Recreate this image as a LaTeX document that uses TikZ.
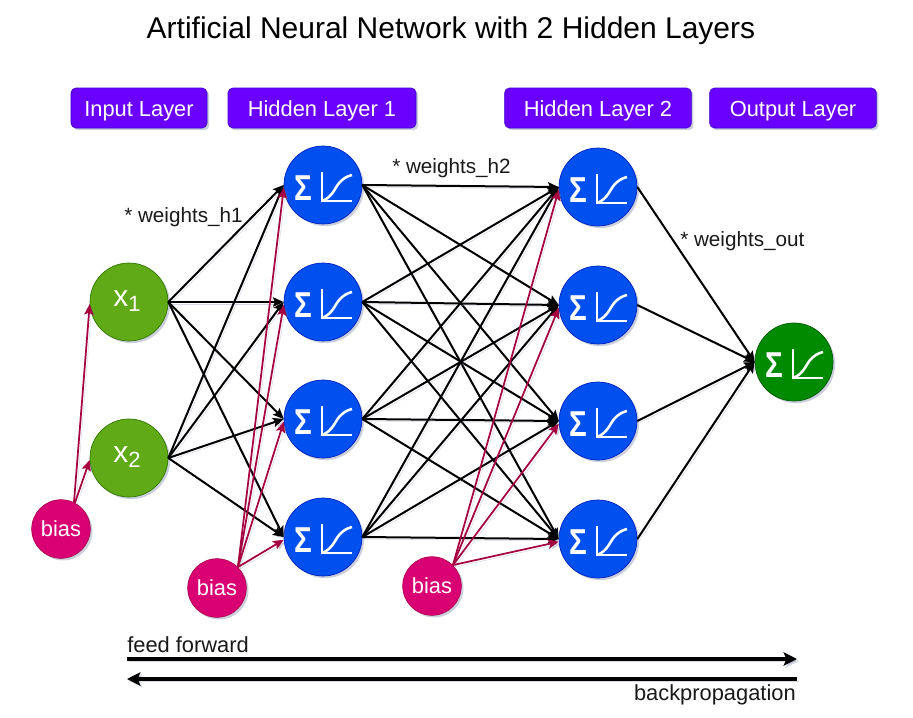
\documentclass[tikz,border=0pt]{standalone}
\usepackage{fontspec}
\setmainfont{Liberation Sans}
\usetikzlibrary{arrows.meta,shadows}
\definecolor{cblue}{HTML}{0050EF}\definecolor{sblue}{HTML}{001DBC}
\definecolor{cgreen}{HTML}{60A917}\definecolor{sgreen}{HTML}{2D7600}
\definecolor{cdgreen}{HTML}{008A00}\definecolor{sdgreen}{HTML}{005700}
\definecolor{cpink}{HTML}{D80073}\definecolor{spink}{HTML}{A50040}
\definecolor{cpurple}{HTML}{6A00FF}\definecolor{spurple}{HTML}{3700CC}
\definecolor{cshadow}{HTML}{7C86A8}
\tikzset{
  softshadow/.style={drop shadow={shadow xshift=1.6pt,shadow yshift=-1.6pt,opacity=.4,fill=cshadow}},
  lineshadow/.style={preaction={draw=cshadow,opacity=.3,transform canvas={shift={(1.5pt,-1.5pt)}}}},
  neuron/.style={circle,draw=#1,line width=.5pt,minimum size=58.5pt,inner sep=0pt,softshadow},
  biasnode/.style={circle,fill=cpink,draw=spink,line width=.4pt,minimum size=44pt,inner sep=0pt,text=white,font=\fontsize{16.4}{16}\selectfont,softshadow},
  layerbox/.style={rounded corners=3.5pt,fill=cpurple,draw=spurple,line width=.4pt,text=white,font=\fontsize{16.4}{18}\selectfont,inner sep=0pt,text height=12pt,text depth=0pt,softshadow},
  sigmatext/.style={text=white,inner sep=0pt,font=\fontsize{27}{27}\selectfont\bfseries},
  icon/.style={draw=white,line width=1.9pt},
  plain/.style={inner sep=0pt,text=black!90,text height=12pt,text depth=1pt},
  thin label/.style={plain,font=\fontsize{15.5}{18}\selectfont},
  wide label/.style={plain,font=\fontsize{16.4}{18}\selectfont},
  xtext/.style={inner sep=0pt,text=white,font=\fontsize{22.5}{24}\selectfont},
  wire/.style={line width=1.5pt,draw=black,lineshadow,-{Stealth[length=8pt,width=7pt,inset=1.5pt]}},
  redwire/.style={line width=1.3pt,draw=spink,lineshadow,-{Stealth[length=8pt,width=7pt,inset=1.5pt]}},
  flow/.style={line width=2.3pt,draw=black,lineshadow,-{Stealth[length=10pt,width=10pt,inset=2pt]}},
}
\newcommand{\subdigit}[1]{\raisebox{-3.75pt}{\fontsize{16.5}{16.5}\selectfont #1}}
\newcommand{\neuronat}[5]{%
  \node[neuron=#5,fill=#4] (#1) at (#2,#3) {};
  \node[sigmatext] (#1s) at (#2-20,#3+3) {\scalebox{.82}[1]{Σ}};
  \draw[icon,shift={(#2,#3)}] (-1,-13) -- (-1,16) -- (29,16);
  \draw[icon,shift={(#2,#3)}] (-1,16) .. controls (10,12) and (12,2) .. (17,-3) .. controls (20,-6) and (24,-9) .. (29,-10);
}
\begin{document}
\begin{tikzpicture}[x=.75pt,y=-.75pt]
\useasboundingbox (0,0) rectangle (913,717);
\node[inner sep=0pt,text=black,font=\fontsize{22.5}{26}\selectfont] (title) at (451,31) {Artificial Neural Network with 2 Hidden Layers};
\node[layerbox,minimum width=102pt,minimum height=30pt] (l0) at (139,108) {Input Layer};
\node[layerbox,minimum width=141pt,minimum height=30pt] (l1) at (322,108) {Hidden Layer 1};
\node[layerbox,minimum width=140pt,minimum height=30pt] (l2) at (598,108) {Hidden Layer 2};
\node[layerbox,minimum width=125pt,minimum height=30pt] (l3) at (793,108) {Output Layer};
\node[neuron=sgreen,fill=cgreen] (x1) at (129,302) {};
\node[neuron=sgreen,fill=cgreen] (x2) at (129,458) {};
\node[xtext] (x1t) at (127,301) {x\subdigit{1}};
\node[xtext] (x2t) at (127,457) {x\subdigit{2}};
\node[biasnode] (b0) at (61,529) {bias};
\node[biasnode] (b1) at (217,588) {bias};
\node[biasnode] (b2) at (432,586) {bias};
\neuronat{a1}{323}{185}{cblue}{sblue}
\neuronat{a2}{323}{302}{cblue}{sblue}
\neuronat{a3}{323}{419}{cblue}{sblue}
\neuronat{a4}{323}{537}{cblue}{sblue}
\neuronat{c1}{598}{187}{cblue}{sblue}
\neuronat{c2}{598}{305}{cblue}{sblue}
\neuronat{c3}{598}{421}{cblue}{sblue}
\neuronat{c4}{598}{539}{cblue}{sblue}
\neuronat{o}{794}{362}{cdgreen}{sdgreen}
\foreach \s in {x1,x2} \foreach \t in {a1,a2,a3,a4} \draw[wire] (\s.east) -- (\t.west);
\foreach \s in {a1,a2,a3,a4} \foreach \t in {c1,c2,c3,c4} \draw[wire] (\s.east) -- (\t.west);
\foreach \s in {c1,c2,c3,c4} \draw[wire] (\s.east) -- (o.west);
\draw[redwire] (b0.64) -- (x1.183);
\draw[redwire] (b0.62) -- (x2.183);
\foreach \t in {a1,a2,a3,a4} \draw[redwire] (b1.45) -- (\t.184);
\foreach \t in {c1,c2,c3,c4} \draw[redwire] (b2.45) -- (\t.184);
\node[thin label,anchor=west] (wh1) at (124,215) {* weights\_h1};
\node[thin label,anchor=west] (wh2) at (392,166) {* weights\_h2};
\node[thin label,anchor=west] (wo) at (680,239) {* weights\_out};
\node[wide label,anchor=west] (ff) at (127,645) {feed forward};
\node[wide label,anchor=east] (bp) at (796,693) {backpropagation};
\coordinate (fs) at (127,659); \coordinate (fe) at (797,659);
\coordinate (bs) at (797,679); \coordinate (be) at (127,679);
\draw[flow] (fs) -- (fe);
\draw[flow] (bs) -- (be);
\end{tikzpicture}
\end{document}
